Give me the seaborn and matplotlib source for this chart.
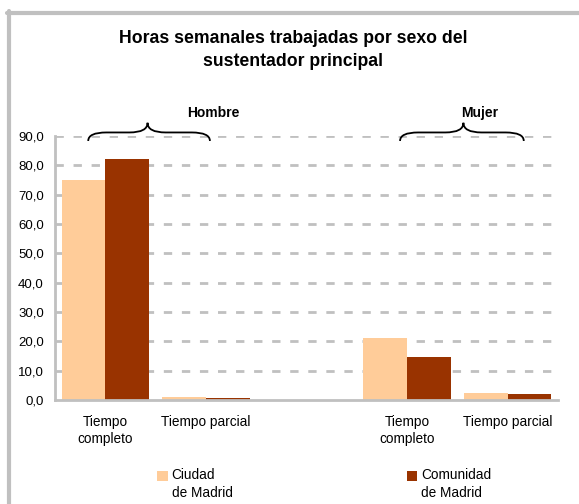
import matplotlib
matplotlib.use("Agg")
import matplotlib.pyplot as plt
from matplotlib.lines import Line2D
from matplotlib.patches import Patch, Rectangle, PathPatch
from matplotlib.path import Path
from matplotlib.legend_handler import HandlerPatch
import seaborn as sns
import pandas as pd
import numpy as np

# --- data ---
grupos = ["Hombre", "Mujer"]
jornadas = ["Tiempo\ncompleto", "Tiempo parcial"]
series = ["Ciudad\nde Madrid", "Comunidad\nde Madrid"]
ciudad = [75.0, 1.0, 21.2, 2.4]
comunidad = [82.2, 0.7, 14.7, 2.0]
colores = ["#FFCC99", "#993300"]

titulo = "Horas semanales trabajadas por sexo del\nsustentador principal"

sns.set_theme(style="white")
plt.rcParams['font.family'] = ['Liberation Sans', 'DejaVu Sans']
plt.rcParams['text.color'] = 'black'
plt.rcParams['xtick.labelcolor'] = 'black'
plt.rcParams['ytick.labelcolor'] = 'black'

# build long table; a blank slot separates the two groups
rows = []
keys = []
for g in grupos:
    for j in jornadas:
        keys.append(f"{g}|{j}")
order = keys[:2] + ["blank"] + keys[2:]
for k, v1, v2 in zip(keys, ciudad, comunidad):
    rows.append({"cat": k, "serie": series[0], "valor": v1})
    rows.append({"cat": k, "serie": series[1], "valor": v2})
df = pd.DataFrame(rows)

fig = plt.figure(figsize=(5.79, 5.04), dpi=100)
ax = fig.add_axes([0.095, 0.2063, 0.8687, 0.5239])

sns.barplot(data=df, x="cat", y="valor", hue="serie", order=order,
            hue_order=series, palette=colores, width=0.87, gap=0,
            saturation=1, errorbar=None, ax=ax, legend=False, linewidth=0)

ax.set_ylim(0, 90)
ax.set_xlim(-0.5, 4.5)
ax.set_yticks(np.arange(0, 91, 10))
ax.set_yticklabels([f"{v:.1f}".replace(".", ",") for v in np.arange(0, 91, 10)],
                   fontsize=9.5)
labels = [k.split("|")[1] if k != "blank" else "" for k in order]
ax.set_xticks(range(len(order)))
ax.set_xticklabels(labels, fontsize=9.8)
ax.set_xticks(np.arange(-0.5, len(order)), minor=True)
ax.tick_params(axis="x", which="major", length=0, pad=11)
ax.tick_params(axis="x", which="minor", length=5, width=2, color="#c0c0c0",
               direction="out")
ax.tick_params(axis="y", length=5, width=2, color="#c0c0c0", pad=3)
ax.set_xlabel("")
ax.set_ylabel("")

for yv in np.arange(10, 91, 10):
    ax.axhline(yv, color="#c0c0c0", lw=2, dashes=(3, 3.5), zorder=0)

for s in ["top", "right"]:
    ax.spines[s].set_visible(False)
for s in ["left", "bottom"]:
    ax.spines[s].set_color("#c0c0c0")
    ax.spines[s].set_linewidth(2)


def brace(x0, x1, xt, y0, y1, y2):
    # curly brace opening downwards
    r = 0.18
    verts = [(x0, y0), (x0, y1), (x0 + r, y1),
             (xt - r, y1), (xt, y1), (xt, y2),
             (xt, y1), (xt + r, y1),
             (x1 - r, y1), (x1, y1), (x1, y0)]
    codes = [Path.MOVETO, Path.CURVE3, Path.CURVE3,
             Path.LINETO, Path.CURVE3, Path.CURVE3,
             Path.CURVE3, Path.CURVE3,
             Path.LINETO, Path.CURVE3, Path.CURVE3]
    ax.add_patch(PathPatch(Path(verts, codes), fill=False, lw=1.3,
                           color="black", clip_on=False))


brace(-0.17, 1.04, 0.42, 88.3, 91.2, 94.5)
brace(2.93, 4.16, 3.56, 88.3, 91.2, 94.5)
ax.text(1.07, 97.8, grupos[0], ha="center", va="center", fontsize=10,
        fontweight="bold")
ax.text(3.72, 97.8, grupos[1], ha="center", va="center", fontsize=10,
        fontweight="bold")

fig.text(0.506, 0.9, titulo, ha="center", va="center", fontsize=12.7,
         fontweight="bold", linespacing=1.45)


# legend square sits next to the first line of the label
def top_square(legend, orig_handle, xdescent, ydescent, width, height, fontsize):
    return Rectangle((-xdescent, -ydescent + 0.62 * fontsize), width, height)


handles = [Patch(facecolor=c, edgecolor="none") for c in colores]
leg = fig.legend(handles, series, loc="center", bbox_to_anchor=(0.56, 0.04),
                 ncol=2, frameon=False, fontsize=9.8, handlelength=0.75,
                 handleheight=0.75, handletextpad=0.3, columnspacing=12.8,
                 handler_map={Patch: HandlerPatch(patch_func=top_square)})
for t in leg.get_texts():
    t.set_multialignment("left")
    t.set_linespacing(1.35)

# outer frame (top and left)
fig.add_artist(Line2D([7 / 579, 1], [1 - 13 / 504, 1 - 13 / 504],
                      transform=fig.transFigure, color="#c0c0c0", lw=3))
fig.add_artist(Line2D([9 / 579, 9 / 579], [0, 1 - 11 / 504],
                      transform=fig.transFigure, color="#c0c0c0", lw=3))

fig.savefig("out.png", dpi=100)
